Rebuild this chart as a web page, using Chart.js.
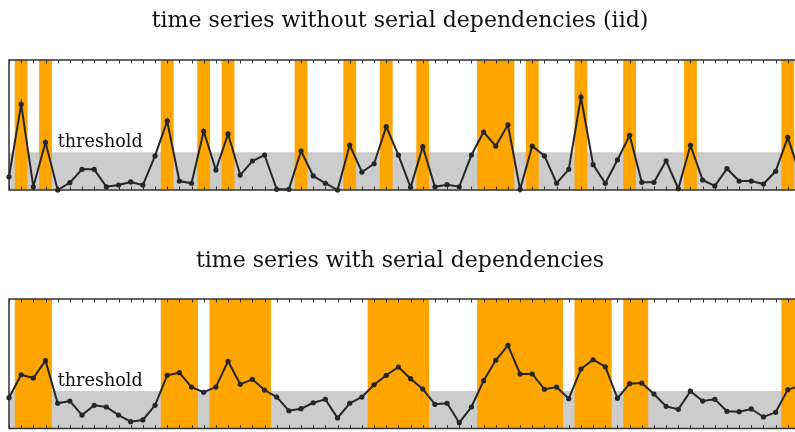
<!DOCTYPE html>
<html>
<head>
<meta charset="utf-8">
<script src="https://cdn.jsdelivr.net/npm/chart.js@4.4.1/dist/chart.umd.min.js"></script>
<style>
  html, body { margin: 0; padding: 0; background: #fff; overflow: hidden; }
  #wrap { position: relative; width: 795px; height: 432px; }
  canvas { position: absolute; left: 0; }
  #iid { top: 0; }
  #dep { top: 216px; }
</style>
</head>
<body>
<div id="wrap">
  <canvas id="iid" width="795" height="216"></canvas>
  <canvas id="dep" width="795" height="216"></canvas>
</div>
<script>
// Exceedance threshold shared by both series
const threshold = 29;

// Independent (iid) samples, time steps 0..65
const iidValues = [
  10.2, 65.9, 2.5, 36.7, 0, 5.6, 15.9, 15.9, 2.5, 3.8,
  6.2, 3.8, 26.2, 53.1, 6.9, 5.2, 45.2, 15.4, 43.1, 11.5,
  22.3, 26.9, 0.5, 0.5, 30.0, 10.8, 5.2, 0, 34.6, 13.8,
  20.2, 48.7, 26.9, 2.1, 33.3, 2.5, 4.1, 2.5, 26.9, 44.6,
  33.8, 50.2, 0.5, 33.8, 26.2, 5.2, 15.9, 71.5, 19.5, 5.2,
  23.1, 42.1, 5.9, 5.9, 22.5, 1.0, 34.4, 7.7, 3.1, 16.4,
  6.9, 6.9, 4.6, 14.4, 40.5, 11.5
];

// Serially dependent samples, time steps 0..65
const depValues = [
  23.8, 41.5, 39.0, 52.4, 19.5, 21.2, 10.4, 17.9, 16.6, 10.4,
  5.3, 6.6, 17.9, 41.1, 43.1, 32.0, 28.0, 32.0, 51.9, 34.1,
  38.0, 29.7, 24.3, 13.7, 15.3, 19.9, 22.5, 8.1, 19.5, 24.3,
  33.8, 41.1, 47.5, 38.5, 30.5, 18.7, 19.5, 4.5, 16.6, 36.9,
  52.7, 64.2, 42.1, 42.1, 30.3, 32.0, 23.0, 45.9, 53.1, 47.7,
  23.3, 34.6, 35.1, 26.6, 17.1, 14.8, 28.8, 21.2, 22.5, 13.3,
  13.0, 15.1, 8.9, 12.5, 30.0, 32.8
];

const panelTitles = [
  'time series without serial dependencies (iid)',
  'time series with serial dependencies'
];
const thresholdLabel = 'threshold';

const ORANGE = '#FFA500';
const GREY = '#CCCCCC';
const INK = '#262626';
const SERIF = '"DejaVu Serif", "Liberation Serif", serif';

// Frame with inward ticks, drawn right after the exceedance bars
const framePlugin = {
  id: 'frame',
  afterDatasetDraw(chart, args) {
    if (args.index !== 1) return;
    const { ctx, chartArea: a, scales: { x } } = chart;
    ctx.save();
    ctx.strokeStyle = '#333';
    ctx.lineWidth = 1;
    for (let i = Math.ceil(x.min); i <= x.max; i++) {
      const px = Math.round(x.getPixelForValue(i)) + 0.5;
      ctx.beginPath();
      ctx.moveTo(px, a.top); ctx.lineTo(px, a.top + 3.5);
      ctx.moveTo(px, a.bottom); ctx.lineTo(px, a.bottom - 3.5);
      ctx.stroke();
    }
    ctx.lineWidth = 1.5;
    ctx.beginPath();
    ctx.moveTo(a.right + 2, a.top);
    ctx.lineTo(a.left, a.top);
    ctx.lineTo(a.left, a.bottom);
    ctx.lineTo(a.right + 2, a.bottom);
    ctx.stroke();
    ctx.restore();
  },
  afterDraw(chart, args, opts) {
    const { ctx, scales: { x, y } } = chart;
    ctx.save();
    ctx.fillStyle = '#111';
    ctx.textBaseline = 'alphabetic';
    ctx.font = '22px ' + SERIF;
    ctx.textAlign = 'center';
    ctx.fillText(opts.title, 400, opts.titleY);
    ctx.font = '17.6px ' + SERIF;
    ctx.textAlign = 'left';
    ctx.fillText(thresholdLabel, x.getPixelForValue(4.0), y.getPixelForValue(threshold) - 5);
    ctx.restore();
  }
};

function makePanel(canvasId, values, title, titleY, padTop, padBottom) {
  const pts = values.map((v, i) => ({ x: i, y: v }));
  const exceed = values.map((v, i) => ({ x: i, y: v > threshold ? 100 : null }));
  const band = [{ x: -1, y: threshold }, { x: values.length, y: threshold }];
  return new Chart(document.getElementById(canvasId), {
    data: {
      datasets: [
        {
          type: 'line', data: pts, order: 0,
          borderColor: INK, borderWidth: 2, tension: 0,
          pointRadius: 2.6, pointBackgroundColor: INK, pointBorderWidth: 0,
          clip: false
        },
        {
          type: 'bar', data: exceed, order: 1,
          backgroundColor: ORANGE, borderWidth: 0,
          barPercentage: 1, categoryPercentage: 1
        },
        {
          type: 'line', data: band, order: 2,
          borderWidth: 0, pointRadius: 0,
          fill: 'origin', backgroundColor: GREY
        }
      ]
    },
    options: {
      responsive: false,
      animation: false,
      devicePixelRatio: 1,
      layout: {
        autoPadding: false,
        padding: { left: 9, right: 0, top: padTop, bottom: padBottom }
      },
      plugins: {
        legend: { display: false },
        tooltip: { enabled: false },
        frame: { title: title, titleY: titleY }
      },
      scales: {
        x: { type: 'linear', min: 0, max: 64.59, offset: false, display: false },
        y: { type: 'linear', min: 0, max: 100, display: false }
      }
    },
    plugins: [framePlugin]
  });
}

makePanel('iid', iidValues, panelTitles[0], 26.7, 60, 26);
makePanel('dep', depValues, panelTitles[1], 50.7, 83, 3.5);
</script>
</body>
</html>
